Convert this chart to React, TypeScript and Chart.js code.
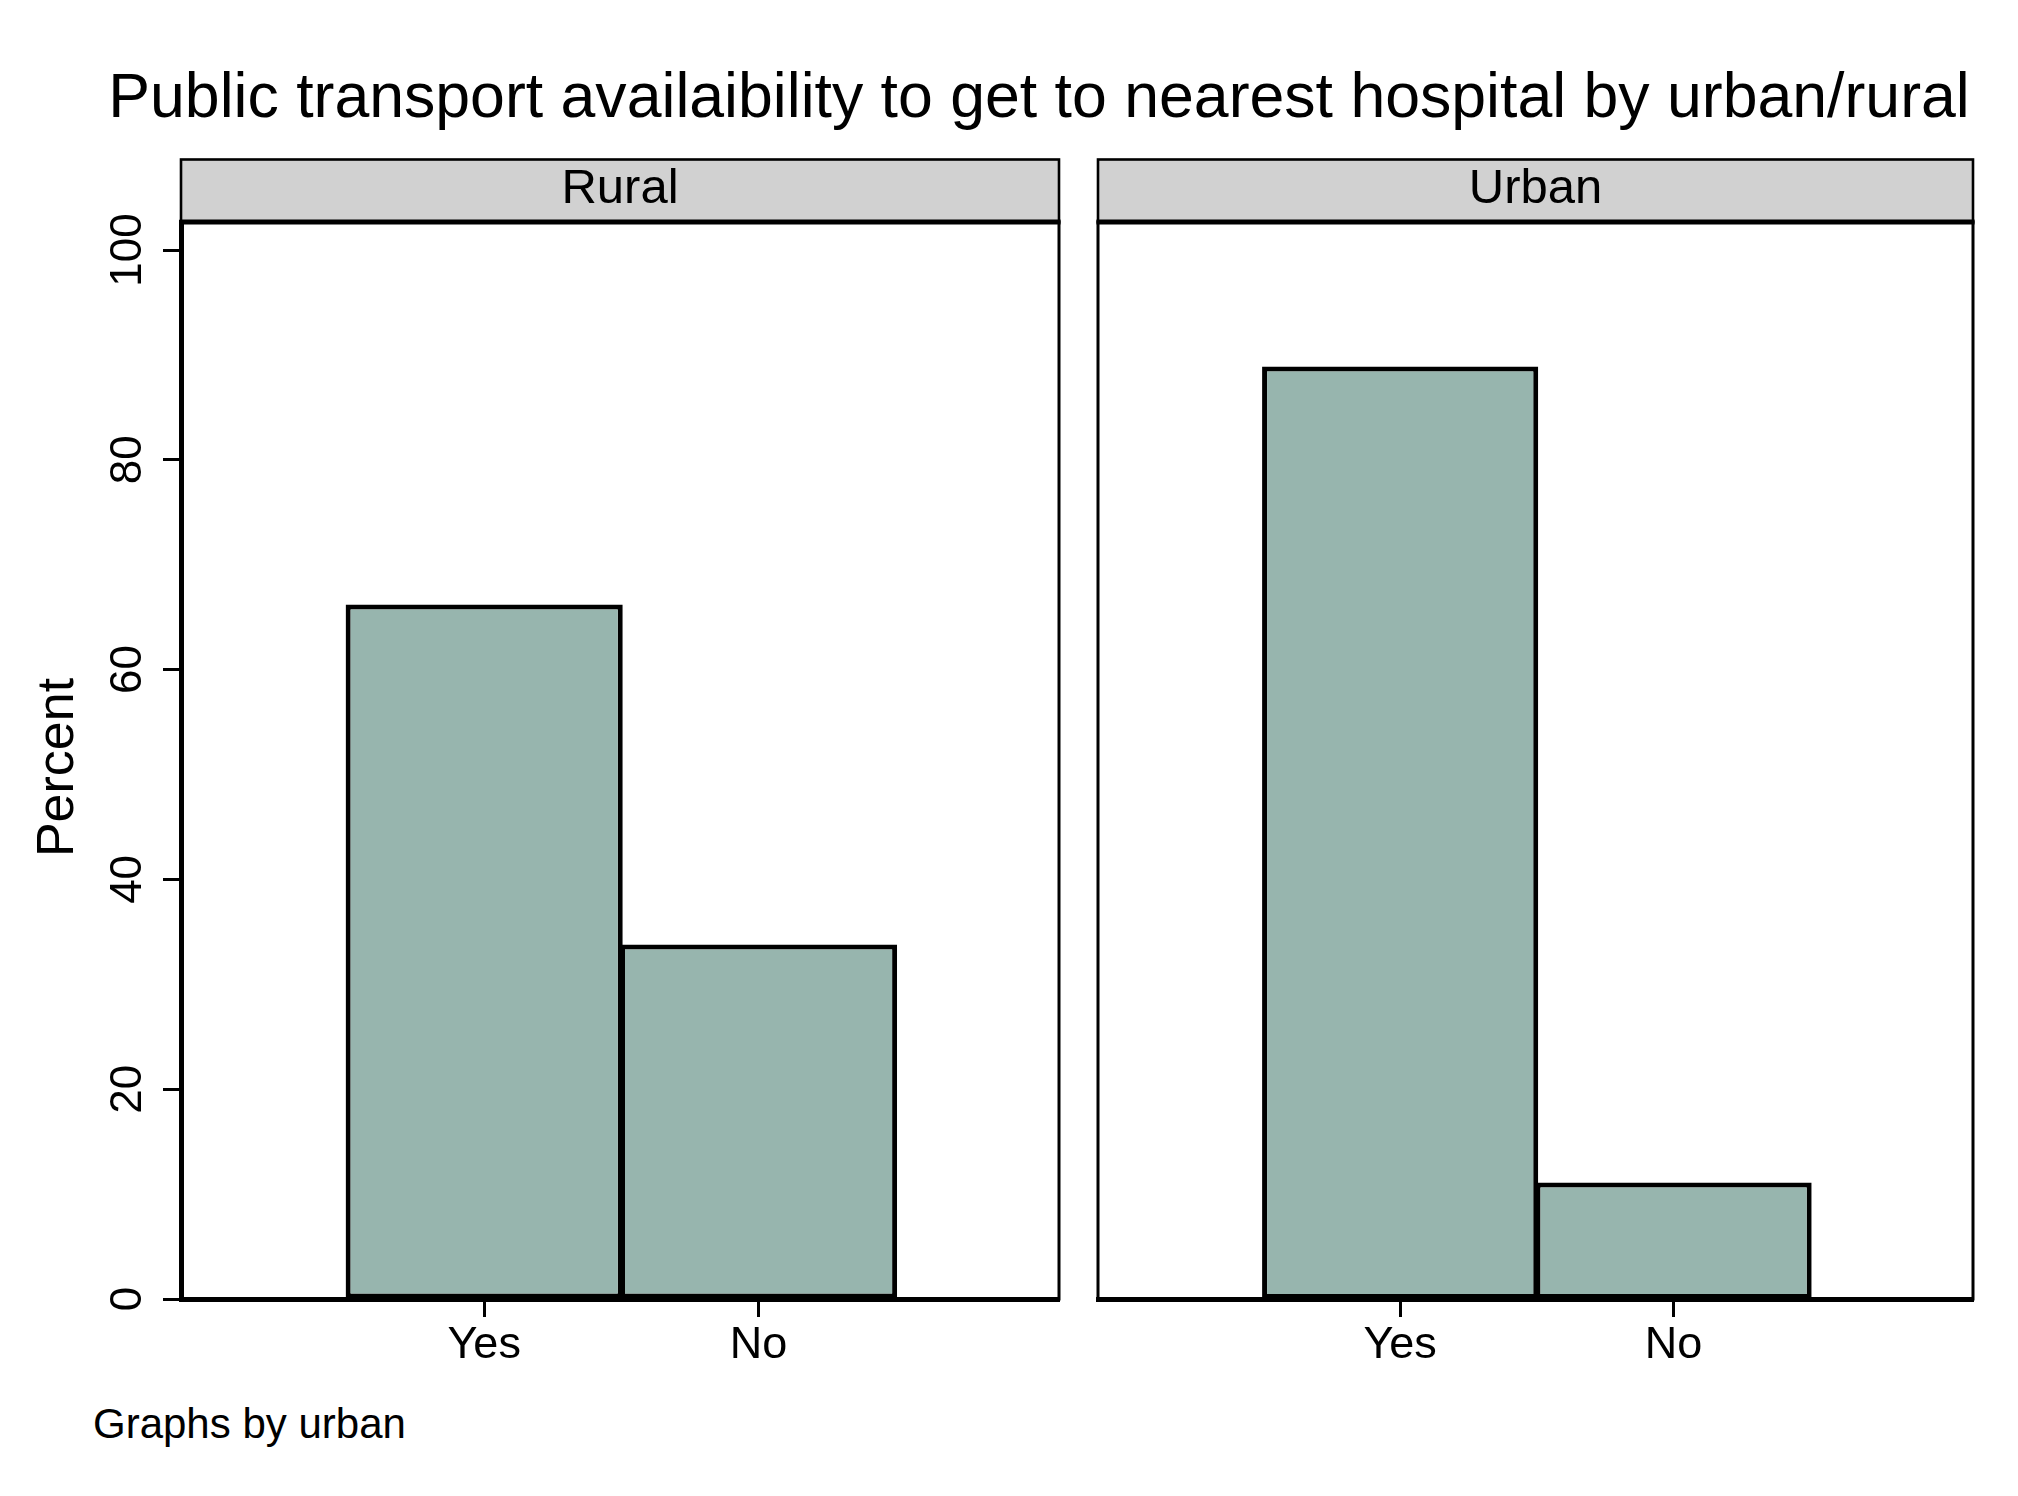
import React, { useEffect, useRef } from 'react';
import { Chart, registerables } from 'chart.js';

Chart.register(...registerables);

const TITLE = 'Public transport availaibility to get to nearest hospital by urban/rural';
const NOTE = 'Graphs by urban';
const Y_LABEL = 'Percent';
const PANELS = ['Rural', 'Urban'];
const CATEGORIES = ['Yes', 'No'];
const RURAL_PERCENT = [66.2, 33.8];
const URBAN_PERCENT = [88.9, 11.1];
const Y_TICKS = [0, 20, 40, 60, 80, 100];

const FONT = '"Liberation Sans", Arial, Helvetica, sans-serif';
const BAR_FILL = 'rgb(151,181,174)';
const STRIP_FILL = '#d1d1d1';

const panelFramePlugin = {
  id: 'panelFrame',
  afterDraw(chart: any, _args: any, opts: any) {
    const { ctx, chartArea: a } = chart;
    const w = a.right - a.left;
    ctx.save();
    ctx.strokeStyle = '#000';
    ctx.lineWidth = 3;
    ctx.strokeRect(a.left, a.top, w, a.bottom - a.top);
    const top = a.top - opts.stripHeight;
    ctx.fillStyle = STRIP_FILL;
    ctx.fillRect(a.left, top, w, opts.stripHeight);
    ctx.lineWidth = 2.6;
    ctx.strokeRect(a.left, top, w, opts.stripHeight);
    ctx.lineWidth = 5;
    ctx.beginPath();
    ctx.moveTo(a.left - 1.5, a.top);
    ctx.lineTo(a.right + 1.5, a.top);
    ctx.stroke();
    ctx.fillStyle = '#000';
    ctx.font = `49px ${FONT}`;
    ctx.textAlign = 'center';
    ctx.textBaseline = 'alphabetic';
    ctx.fillText(opts.label, (a.left + a.right) / 2, a.top - opts.labelOffset);
    if (opts.yTitle) {
      ctx.translate(opts.yTitleX, (a.top + a.bottom) / 2 + opts.yTitleShift);
      ctx.rotate(-Math.PI / 2);
      ctx.font = `52px ${FONT}`;
      ctx.textAlign = 'center';
      ctx.textBaseline = 'alphabetic';
      ctx.fillText(opts.yTitle, 0, 0);
    }
    ctx.restore();
  },
};

function makeConfig(label: string, values: number[], showY: boolean): any {
  return {
    type: 'bar',
    data: {
      datasets: [
        {
          data: CATEGORIES.map((_, i) => ({ x: i, y: values[i] })),
          backgroundColor: BAR_FILL,
          borderColor: '#000',
          borderWidth: 5,
          borderSkipped: false,
          barPercentage: 1.01,
          categoryPercentage: 1,
        },
      ],
    },
    plugins: [panelFramePlugin],
    options: {
      animation: false,
      responsive: false,
      devicePixelRatio: 1,
      layout: { padding: { top: 82, bottom: 0, left: showY ? 0 : 20, right: showY ? 16 : 12 } },
      plugins: {
        legend: { display: false },
        tooltip: { enabled: false },
        panelFrame: {
          label,
          stripHeight: 62.5,
          labelOffset: 18.7,
          yTitle: showY ? Y_LABEL : '',
          yTitleX: 73,
          yTitleShift: 7,
        },
      },
      scales: {
        x: {
          type: 'linear',
          offset: false,
          min: -1.105,
          max: 2.095,
          afterBuildTicks: (s: any) => {
            s.ticks = CATEGORIES.map((_, i) => ({ value: i }));
          },
          afterFit: (s: any) => {
            s.height = 101;
          },
          ticks: {
            callback: (_v: any, i: number) => CATEGORIES[i],
            font: { family: FONT, size: 45 },
            color: '#000',
            padding: 2,
            minRotation: 0,
            maxRotation: 0,
            autoSkip: false,
          },
          grid: {
            offset: false,
            drawOnChartArea: false,
            drawTicks: true,
            tickLength: 18,
            tickWidth: 3,
            tickColor: '#000',
          },
          border: { display: true, width: 5, color: '#000' },
        },
        y: {
          display: showY,
          min: 0,
          max: 102.67,
          afterBuildTicks: (s: any) => {
            s.ticks = Y_TICKS.map((v) => ({ value: v }));
          },
          afterFit: (s: any) => {
            if (showY) s.width = 181;
          },
          ticks: {
            font: { family: FONT, size: 44 },
            color: '#000',
            padding: -3,
            minRotation: 90,
            maxRotation: 90,
            crossAlign: 'center',
          },
          title: { display: false },
          grid: { drawOnChartArea: false, drawTicks: true, tickLength: 18, tickWidth: 3, tickColor: '#000' },
          border: { display: true, width: 5, color: '#000' },
        },
      },
    },
  };
}

export default function App() {
  const leftRef = useRef<HTMLCanvasElement>(null);
  const rightRef = useRef<HTMLCanvasElement>(null);

  useEffect(() => {
    const c1 = new Chart(leftRef.current as HTMLCanvasElement, makeConfig(PANELS[0], RURAL_PERCENT, true));
    const c2 = new Chart(rightRef.current as HTMLCanvasElement, makeConfig(PANELS[1], URBAN_PERCENT, false));
    return () => {
      c1.destroy();
      c2.destroy();
    };
  }, []);

  return (
    <div
      style={{
        position: 'fixed',
        left: 0,
        top: 0,
        width: 2018,
        height: 1496,
        background: '#fff',
        overflow: 'hidden',
        fontFamily: FONT,
        color: '#000',
      }}
    >
      <div
        style={{
          position: 'absolute',
          left: 39,
          width: 2000,
          top: 64,
          fontSize: 62.6,
          lineHeight: '62px',
          textAlign: 'center',
          whiteSpace: 'nowrap',
        }}
      >
        {TITLE}
      </div>
      <canvas
        ref={leftRef}
        width={1075}
        height={1260}
        style={{ position: 'absolute', left: 0, top: 140, width: 1075, height: 1260 }}
      />
      <canvas
        ref={rightRef}
        width={907}
        height={1260}
        style={{ position: 'absolute', left: 1078, top: 140, width: 907, height: 1260 }}
      />
      <div
        style={{
          position: 'absolute',
          left: 93,
          top: 1402.5,
          fontSize: 42,
          lineHeight: '42px',
          whiteSpace: 'nowrap',
        }}
      >
        {NOTE}
      </div>
    </div>
  );
}
